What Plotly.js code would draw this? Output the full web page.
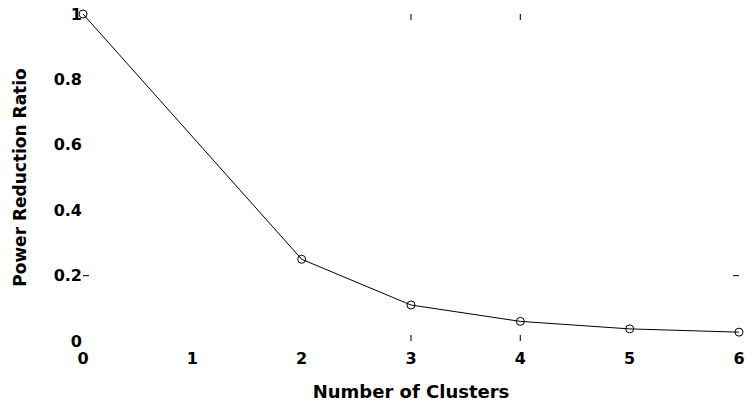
<!DOCTYPE html>
<html>
<head>
<meta charset="utf-8">
<script src="https://cdn.plot.ly/plotly-3.0.1.min.js"></script>
<style>html,body{margin:0;padding:0;background:#fff;}#chart{width:746px;height:402px;}</style>
</head>
<body>
<div id="chart"></div>
<script>
const clusters = [0, 2, 3, 4, 5, 6];
const powerRatio = [1.0, 0.25, 0.11, 0.06, 0.037, 0.027];
const xTickVals = [0, 1, 2, 3, 4, 5, 6];
const xTickText = ['0', '1', '2', '3', '4', '5', '6'];
const yTickVals = [0, 0.2, 0.4, 0.6, 0.8, 1];
const yTickText = ['0', '0.2', '0.4', '0.6', '0.8', '1'];

const font = 'DejaVu Sans, Arial, sans-serif';

const trace = {
  x: clusters,
  y: powerRatio,
  type: 'scatter',
  mode: 'lines+markers',
  line: {color: '#000', width: 1},
  marker: {symbol: 'circle-open', size: 8, color: '#000', line: {width: 1, color: '#000'}},
  cliponaxis: false,
  hoverinfo: 'skip'
};

function vTick(x, top) {
  return {type: 'line', xref: 'x', yref: 'paper', ysizemode: 'pixel', yanchor: top ? 1 : 0,
    x0: x, x1: x, y0: 0, y1: top ? -6 : 6, line: {color: '#222', width: 1.2}};
}
function hTick(y, right) {
  return {type: 'line', xref: 'paper', yref: 'y', xsizemode: 'pixel', xanchor: right ? 1 : 0,
    y0: y, y1: y, x0: 0, x1: right ? -6 : 6, line: {color: '#222', width: 1.2}};
}

const layout = {
  width: 746, height: 402,
  margin: {l: 83, r: 7, t: 14, b: 61},
  paper_bgcolor: '#fff', plot_bgcolor: '#fff',
  showlegend: false,
  font: {family: font, size: 16, color: '#000'},
  xaxis: {
    range: [0, 6], tickvals: xTickVals, ticktext: xTickText,
    showgrid: false, zeroline: false, showline: false, ticks: '',
    tickfont: {family: font, size: 16, color: '#000', weight: 'bold'},
    ticklabelstandoff: 6,
    ticklabeloverflow: 'allow',
    title: {text: 'Number of Clusters', font: {family: font, size: 18, color: '#000', weight: 'bold'}, standoff: 18},
    automargin: false
  },
  yaxis: {
    range: [0, 1], tickvals: yTickVals, ticktext: yTickText,
    showgrid: false, zeroline: false, showline: false, ticks: '',
    tickfont: {family: font, size: 16, color: '#000', weight: 'bold'},
    ticklabelstandoff: 0,
    title: {text: 'Power Reduction Ratio', font: {family: font, size: 17, color: '#000', weight: 'bold'}, standoff: 22},
    automargin: false
  },
  shapes: [vTick(3, true), vTick(4, true), vTick(3, false), vTick(4, false), hTick(0.2, false), hTick(0.2, true)]
};

Plotly.newPlot('chart', [trace], layout, {displayModeBar: false, staticPlot: true});
</script>
</body>
</html>
